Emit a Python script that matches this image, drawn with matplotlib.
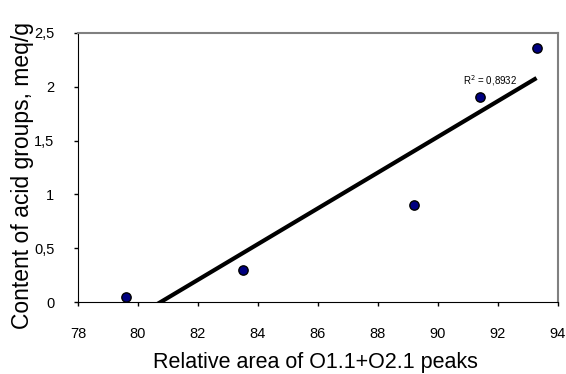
import numpy as np
import matplotlib.pyplot as plt

plt.rcParams['font.family'] = ['Liberation Sans', 'DejaVu Sans']

area = np.array([79.6, 83.5, 89.2, 91.4, 93.3])
acid = np.array([0.05, 0.3, 0.9, 1.9, 2.36])
xticks = [78, 80, 82, 84, 86, 88, 90, 92, 94]
yticks = [0, 0.5, 1, 1.5, 2, 2.5]

fig = plt.figure(figsize=(5.66, 3.74), dpi=100)
ax = fig.add_axes([0.138, 0.1925, 0.847, 0.7195])

# linear trendline over the data range
k, b = np.polyfit(area, acid, 1)
xl = np.linspace(area.min(), area.max(), 100)
ax.plot(xl, k * xl + b, color='black', lw=3, solid_capstyle='butt', zorder=2)

ax.scatter(area, acid, s=45, color='#000080', edgecolors='black', linewidths=1, zorder=3)

ax.text(90.85, 2.06, 'R$^2$ = 0,8932', fontsize=7, va='center', ha='left')

ax.set_xlim(78, 94)
ax.set_ylim(0, 2.5)
ax.set_xticks(xticks)
ax.set_yticks(yticks)
ax.set_xticklabels([str(t) for t in xticks])
ax.set_yticklabels([str(t).replace('.', ',') for t in yticks])
ax.tick_params(labelsize=10.5, length=3, width=1, direction='out')
ax.tick_params(axis='x', pad=15)
ax.tick_params(axis='y', pad=14)

for s in ['top', 'right']:
    ax.spines[s].set_color('#808080')
    ax.spines[s].set_linewidth(1.5)
for s in ['left', 'bottom']:
    ax.spines[s].set_color('black')

# axis titles placed in figure coordinates
fig.text(0.557, 0.03, 'Relative area of O1.1+O2.1 peaks', fontsize=15.5,
         ha='center', va='center')
fig.text(0.039, 0.53, 'Content of acid groups, meq/g', fontsize=16.5,
         ha='center', va='center', rotation=90)

fig.savefig('out.png', dpi=100)
